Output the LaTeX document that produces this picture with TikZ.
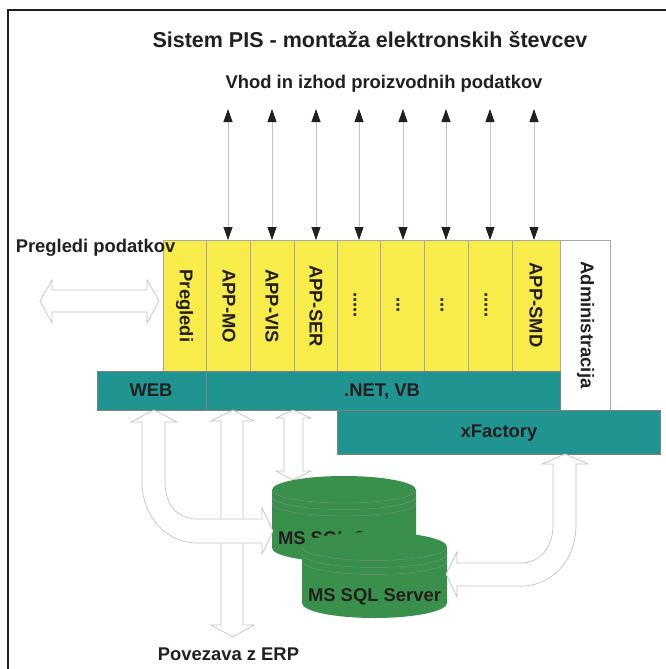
\documentclass[tikz,border=0pt]{standalone}
\usepackage{fontspec}
\setmainfont{Liberation Sans}
\usetikzlibrary{arrows.meta}
\definecolor{inkc}{HTML}{231F20}
\definecolor{yel}{HTML}{F7EC4A}
\definecolor{teal1}{HTML}{1F9490}
\definecolor{grn}{HTML}{38904A}
\definecolor{edge}{HTML}{A8A8A8}
\definecolor{blockedge}{HTML}{C4C4C4}
\definecolor{bandc}{HTML}{6F8F74}
\tikzset{
  ybox/.style={draw=edge,fill=yel,line width=.8pt,minimum height=131pt,inner sep=0pt,outer sep=0pt},
  wbox/.style={draw=edge,fill=white,line width=.8pt,inner sep=0pt,outer sep=0pt},
  tbox/.style={draw=gray,fill=teal1,line width=.8pt,inner sep=0pt,outer sep=0pt},
  lab/.style={inner sep=0pt,outer sep=0pt,text=inkc,font=\bfseries\fontsize{18.4}{22}\selectfont},
  vlab/.style={lab,rotate=-90},
  thin arrow/.style={draw=blockedge,line width=.8pt,{Triangle[length=13pt,width=9pt,inkc]}-{Triangle[length=13pt,width=9pt,inkc]}},
  block/.style={draw=blockedge,fill=white,line width=.7pt,line join=miter},
  band/.style={draw=bandc,line width=.5pt}
}
\begin{document}
\begin{tikzpicture}[x=1pt,y=-1pt]
\useasboundingbox (0,0) rectangle (666,669);
\fill[white] (0,0) rectangle (666,669);
\draw[inkc,line width=1.3pt] (8,669) -- (8,10) -- (666,10);

% upper thin arrows
\foreach \n/\x in {app1/228,app2/272,app3/316,app4/359,app5/403,app6/446,app7/490,app8/534}{
  \coordinate (top\n) at (\x,109);
  \coordinate (bot\n) at (\x,240);
  \draw[thin arrow] (top\n) -- (bot\n);
}

% column boxes
\node[ybox,minimum width=43pt] (prg) at (184.5,305.5) {};
\node[ybox,minimum width=44pt] (app1) at (228,305.5) {};
\node[ybox,minimum width=44pt] (app2) at (272,305.5) {};
\node[ybox,minimum width=44pt] (app3) at (316,305.5) {};
\node[ybox,minimum width=43.5pt] (app4) at (359.5,305.5) {};
\node[ybox,minimum width=43.5pt] (app5) at (402.5,305.5) {};
\node[ybox,minimum width=44pt] (app6) at (446,305.5) {};
\node[ybox,minimum width=44pt] (app7) at (490,305.5) {};
\node[ybox,minimum width=48pt] (app8) at (536,305.5) {};
\node[wbox,minimum width=50pt,minimum height=170pt] (adm) at (585,325) {};
\node[tbox,minimum width=109pt,minimum height=39pt] (web) at (151.5,390.5) {};
\node[tbox,minimum width=354pt,minimum height=39pt] (net) at (383,390.5) {};
\node[tbox,minimum width=323pt,minimum height=44pt] (xf) at (498.5,432) {};

% labels
\node[lab,font=\bfseries\fontsize{21.5}{26}\selectfont] (title) at (370,40) {Sistem PIS - montaža elektronskih števcev};
\node[lab] (sub) at (384,83.5) {Vhod in izhod proizvodnih podatkov};
\node[lab] (prgd) at (95.5,247.5) {Pregledi podatkov};
\node[lab] (erp) at (228.5,654) {Povezava z ERP};
\node[vlab] (tprg) at (184.5,306) {Pregledi};
\node[vlab] (tapp1) at (229,306) {APP-MO};
\node[vlab] (tapp2) at (272,306) {APP-VIS};
\node[vlab] (tapp3) at (316,306) {APP-SER};
\node[vlab] (tapp4) at (355,305) {.....};
\node[vlab] (tapp5) at (398,305) {...};
\node[vlab] (tapp6) at (442,305) {...};
\node[vlab] (tapp7) at (486,305) {.....};
\node[vlab] (tapp8) at (536,305) {APP-SMD};
\node[vlab] (tadm) at (585.5,325) {Administracija};
\node[lab] (tweb) at (151,390) {WEB};
\node[lab] (tnet) at (382,391.5) {.NET, VB};
\node[lab] (txf) at (499,433) {xFactory};

% left double block arrow
\draw[block] (40,301) -- (52,280) -- (52,290) -- (147,290) -- (147,280) -- (159,301) -- (147,323) -- (147,312) -- (52,312) -- (52,323) -- cycle;
% ERP block arrow
\draw[block] (233,410) -- (254,421) -- (243,421) -- (243,625) -- (254,625) -- (233,637) -- (211,625) -- (221,625) -- (221,421) -- (211,421) -- cycle;
% small double arrow to the database
\draw[block] (293,410) -- (311,418) -- (303,418) -- (303,471) -- (311,471) -- (293,480) -- (276,471) -- (284,471) -- (284,418) -- (276,418) -- cycle;

% database 1
\fill[grn] (272,490) arc[start angle=180,end angle=360,x radius=72,y radius=14] -- (416,548) arc[start angle=0,end angle=180,x radius=72,y radius=14] -- cycle;
\foreach \d in {0,6.5,13}{
  \draw[band] (272,490+\d) arc[start angle=180,end angle=0,x radius=72,y radius=13];
}
\node[lab] (db1) at (344.5,540) {MS SQL Server};

% bent arrow WEB to database 1
\draw[block] (154,410) -- (177,422) -- (165,422) -- (165,482)
  .. controls (165,505) and (178,519) .. (197,519) -- (262,519) -- (262,508) -- (273,531) -- (262,554) -- (262,543) -- (197,543)
  .. controls (165,543) and (142,515) .. (142,482) -- (142,422) -- (131,422) -- cycle;

% database 2
\fill[grn] (302,547) arc[start angle=180,end angle=360,x radius=72.5,y radius=15] -- (447,603) arc[start angle=0,end angle=180,x radius=72.5,y radius=15] -- cycle;
\foreach \d in {0,7,14}{
  \draw[band] (302,547+\d) arc[start angle=180,end angle=0,x radius=72.5,y radius=13.5];
}
\node[lab] (db2) at (374.5,597) {MS SQL Server};

% bent arrow xFactory to database 2
\draw[block] (565,454) -- (588,464) -- (576,464) -- (576,525)
  .. controls (576,562) and (550,586) .. (522,586) -- (457,586) -- (457,597) -- (446,574) -- (457,552) -- (457,563) -- (520,563)
  .. controls (540,563) and (553,548) .. (553,525) -- (553,464) -- (542,464) -- cycle;
\end{tikzpicture}
\end{document}
